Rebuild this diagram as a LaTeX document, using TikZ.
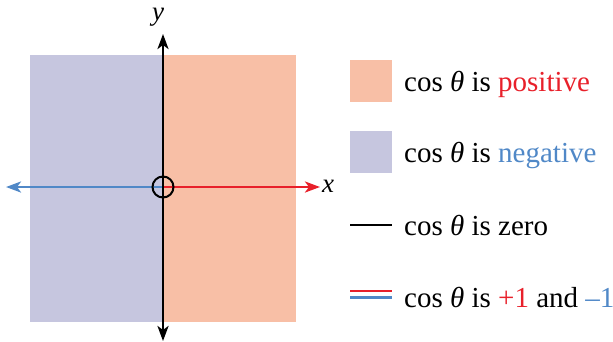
\documentclass[tikz,border=0pt]{standalone}
\usepackage{fontspec}
\setmainfont{Liberation Serif}
\usetikzlibrary{arrows.meta}
\definecolor{pinkq}{HTML}{F8BFA6}
\definecolor{blueq}{HTML}{C6C6DF}
\definecolor{redc}{HTML}{E8202A}
\definecolor{bluec}{HTML}{5088C7}
\tikzset{
  axis/.style={line width=2.6pt, -{Stealth[length=15pt,width=11pt,inset=4pt]}},
  lbl/.style={font=\fontsize{29}{31}\selectfont, anchor=base west, inner sep=0pt},
  swatch/.style={minimum width=42pt, minimum height=42pt, inner sep=0pt, draw=none},
  keyline/.style={line width=2.6pt}
}
\begin{document}
\begin{tikzpicture}[x=1pt,y=-1pt]
\useasboundingbox (0,0) rectangle (613,341);
% quadrant regions
\fill[blueq] (30,55) rectangle (163,322);
\fill[pinkq] (163,55) rectangle (296,322);
% axes
\coordinate (O) at (163,187);
\coordinate (top) at (163,34);
\coordinate (bot) at (163,341);
\coordinate (left) at (6,187);
\coordinate (right) at (320,187);
\draw[axis, bluec] (O) -- (left);
\draw[axis, redc] (O) -- (right);
\draw[axis, black] (O) -- (top);
\draw[axis, black] (O) -- (bot);
\node[circle, draw=black, line width=2pt, minimum size=21pt, inner sep=0pt] (origin) at (O) {};
\node[font=\fontsize{27}{29}\selectfont\itshape, anchor=west, inner sep=0pt] (xl) at (322,186) {x};
\node[font=\fontsize{27}{29}\selectfont\itshape, inner sep=0pt] (yl) at (158,17) {y};
% legend
\node[swatch, fill=pinkq] (s1) at (371,81) {};
\node[swatch, fill=blueq] (s2) at (371,152) {};
\coordinate (k3a) at (350,225);
\coordinate (k3b) at (392,225);
\draw[keyline, black] (k3a) -- (k3b);
\coordinate (k4a) at (350,291);
\coordinate (k4b) at (392,291);
\coordinate (k5a) at (350,297.5);
\coordinate (k5b) at (392,297.5);
\draw[keyline, redc] (k4a) -- (k4b);
\draw[keyline, bluec] (k5a) -- (k5b);
\node[lbl] (t1) at (404,91) {cos {\itshape θ} is \textcolor{redc}{positive}};
\node[lbl] (t2) at (404,162) {cos {\itshape θ} is \textcolor{bluec}{negative}};
\node[lbl] (t3) at (404,235) {cos {\itshape θ} is zero};
\node[lbl] (t4) at (404,307) {cos {\itshape θ} is \textcolor{redc}{+1} and \textcolor{bluec}{–1}};
\end{tikzpicture}
\end{document}
